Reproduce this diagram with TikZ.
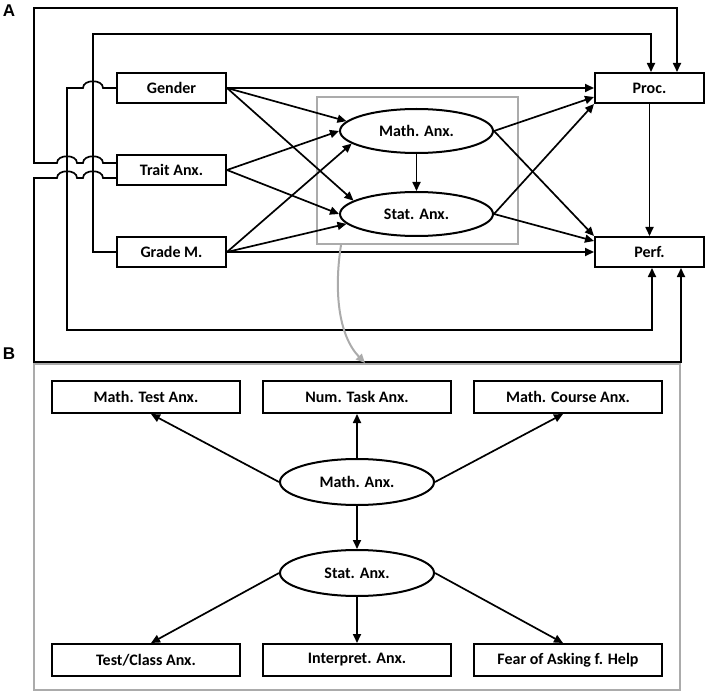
\documentclass[tikz,border=0pt]{standalone}
\usepackage{fontspec}
\setmainfont{Carlito}
\newfontfamily\labelfont{Liberation Sans}
\usetikzlibrary{arrows.meta,shapes.geometric}

\tikzset{
  >={Triangle[length=9pt,width=8pt]},
  conn/.style={line width=1.7pt},
  box/.style={draw, line width=2pt, inner sep=0pt, minimum height=30pt,
    minimum width=109pt, font=\fontsize{16}{19}\selectfont\bfseries},
  wbox/.style={box, minimum width=188pt, minimum height=32pt},
  latent/.style={ellipse, draw, line width=2pt, inner sep=0pt,
    minimum width=153pt, minimum height=44pt, font=\fontsize{16}{19}\selectfont\bfseries},
  frame/.style={draw=black!33, line width=2pt, inner sep=0pt},
  panel/.style={font=\labelfont\fontsize{17}{19}\selectfont\bfseries},
  hop/.style 2 args={insert path={-- (#1+10,#2) .. controls (#1+10,#2-9) and (#1-10,#2-9) .. (#1-10,#2)}}
}

\begin{document}
\begin{tikzpicture}[x=1pt, y=-1pt]
            \useasboundingbox (0,0) rectangle (707,695);
            % panel A
            \node [panel] (labA) at (9,11) {A};
            \node [frame, minimum width=201pt, minimum height=147pt] (zoomA) at (417.5,170.5) {};
            \node [box] (gender) at (171.5,88) {Gender};
            \node [box] (trait) at (171.5,170) {Trait Anx.};
            \node [box] (grade) at (171.5,252) {Grade M.};
            \node [box] (proc) at (649.5,88) {Proc.};
            \node [box] (perf) at (649.5,252) {Perf.};
            \node [latent] (math) at (416.5,131) {Math. Anx.};
            \node [latent] (stat) at (416.5,214) {Stat. Anx.};
            \draw [conn, ->] (gender.east) -- (math.172);
            \draw [conn, ->] (gender.east) -- (stat.168);
            \draw [conn, ->] (gender.east) -- (proc.west);
            \draw [conn, ->] (trait.east) -- (math.west);
            \draw [conn, ->] (trait.east) -- (stat.west);
            \draw [conn, ->] (grade.east) -- (math.191);
            \draw [conn, ->] (grade.east) -- (stat.188);
            \draw [conn, ->] (grade.east) -- (perf.west);
            \draw [conn, ->] (math.south) -- (stat.north);
            \draw [conn, ->] (math.east) -- ([yshift=-9pt]proc.west);
            \draw [conn, ->] (math.east) -- (perf.north west);
            \draw [conn, ->] (stat.east) -- (proc.south west);
            \draw [conn, ->] (stat.east) -- ([yshift=11pt]perf.west);
            \draw [conn, ->] (proc.south) -- (perf.north);
            % long paths round the outside
            \draw [conn, ->] ([yshift=7pt]trait.west) [hop={93}{163}] [hop={67}{163}]
              -- (34,163) -- (34,8) -- (677,8) -- ([xshift=27.5pt]proc.north);
            \draw [conn, ->] ([yshift=-8pt]trait.west) [hop={93}{178}] [hop={67}{178}]
              -- (34,178) -- (34,362) -- (681,362) -- ([xshift=31.5pt]perf.south);
            \draw [conn, ->] (gender.west) [hop={93}{88}] -- (67,88) -- (67,330)
              -- (652,330) -- ([xshift=2.5pt]perf.south);
            \draw [conn, ->] (grade.west) -- (93,252) -- (93,34) -- (651,34)
              -- ([xshift=1.5pt]proc.north);
            % panel B
            \node [panel] (labB) at (9,354) {B};
            \node [frame, minimum width=646pt, minimum height=326pt] (zoomB) at (357,527) {};
            \draw [line width=2pt, black!33, ->] ([xshift=-76.5pt]zoomA.south)
              .. controls (334,290) and (338,335) .. ([xshift=8pt]zoomB.north);
            \node [wbox] (mtest) at (146,397) {Math. Test Anx.};
            \node [wbox] (ntask) at (357,397) {Num. Task Anx.};
            \node [wbox] (mcourse) at (568,397) {Math. Course Anx.};
            \node [latent, minimum width=154pt, minimum height=46pt] (bmath) at (357,482) {Math. Anx.};
            \node [latent, minimum width=154pt, minimum height=46pt] (bstat) at (357,573) {Stat. Anx.};
            \node [wbox] (tclass) at (146,660) {Test/Class Anx.};
            \node [wbox] (interp) at (357,660) {Interpret. Anx.};
            \node [wbox] (fear) at (568,660) {Fear of Asking f. Help};
            \draw [conn, ->] (bmath.west) -- ([xshift=5pt]mtest.south);
            \draw [conn, ->] (bmath.north) -- (ntask.south);
            \draw [conn, ->] (bmath.east) -- ([xshift=-5pt]mcourse.south);
            \draw [conn, ->] (bmath.south) -- (bstat.north);
            \draw [conn, ->] (bstat.west) -- ([xshift=5pt]tclass.north);
            \draw [conn, ->] (bstat.south) -- (interp.north);
            \draw [conn, ->] (bstat.east) -- ([xshift=-5pt]fear.north);
        \end{tikzpicture}
\end{document}
